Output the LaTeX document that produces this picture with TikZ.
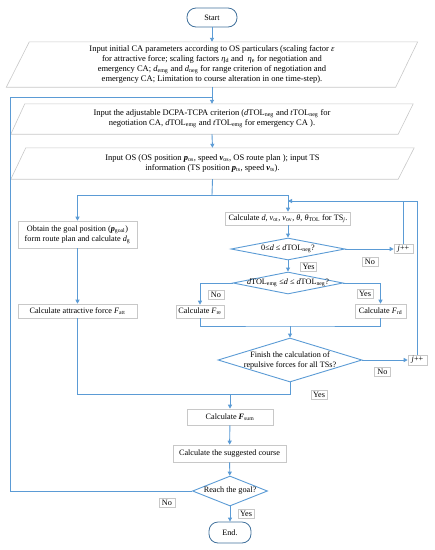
\documentclass[tikz,border=0pt]{standalone}
\usepackage{fontspec}
\setmainfont{Liberation Serif}
\usetikzlibrary{shapes.geometric,arrows.meta,calc}
\definecolor{lineblue}{RGB}{91,155,213}
\definecolor{termblue}{RGB}{65,113,156}
\definecolor{boxgray}{RGB}{200,200,200}
\begin{document}
\begin{tikzpicture}[x=1pt,y=-1pt, font=\fontsize{8.2}{10}\selectfont,
  conn/.style={draw=lineblue, line width=0.9pt},
  arr/.style={conn, -{Triangle[length=4pt,width=4pt]}},
  term/.style={draw=termblue, line width=0.8pt, rounded corners=9pt, inner sep=0pt},
  procbox/.style={draw=boxgray, line width=0.6pt, inner sep=0pt, align=center},
  iobox/.style={inner sep=0pt, align=center, font=\fontsize{8.5}{10}\selectfont},
  para/.style={draw=boxgray, line width=0.6pt},
  dec/.style={diamond, draw=lineblue, line width=0.9pt, inner sep=0pt},
  dectext/.style={inner sep=0pt, align=center},
  lab/.style={draw=boxgray, line width=0.5pt, inner sep=1pt, minimum width=16pt, minimum height=9pt}
]
\useasboundingbox (0,0) rectangle (435,550);

% terminals
\node[term, minimum width=50pt, minimum height=19pt] (start) at (212,17.5) {Start};
\node[term, minimum width=42pt, minimum height=21pt] (endn) at (230,532.5) {End.};

% parallelograms
\node[iobox, minimum width=411pt, minimum height=45pt] (p1) at (212,64.5)
 {Input initial CA parameters according to OS particulars (scaling factor \textit{ε}\\
  for attractive force; scaling factors \textit{η}\textsubscript{d} and \ \textit{η}\textsubscript{e} for negotiation and\\
  emergency CA; \textit{d}\textsubscript{emg} and \textit{d}\textsubscript{neg} for range criterion of negotiation and\\
  emergency CA; Limitation to course alteration in one time-step).};
\draw[para] ($(p1.north west)+(23,0)$) -- (p1.north east) -- ($(p1.south east)+(-22,0)$) -- (p1.south west) -- cycle;

\node[iobox, minimum width=402pt, minimum height=30pt] (p2) at (212,119)
 {Input the adjustable DCPA-TCPA criterion (\textit{d}TOL\textsubscript{neg} and \textit{t}TOL\textsubscript{neg} for\\
  negotiation CA, \textit{d}TOL\textsubscript{emg} and \textit{t}TOL\textsubscript{emg} for emergency CA ).};
\draw[para] ($(p2.north west)+(14,0)$) -- (p2.north east) -- ($(p2.south east)+(-15,0)$) -- (p2.south west) -- cycle;

\node[iobox, minimum width=403pt, minimum height=31pt] (p3) at (212.5,163.5)
 {Input OS (OS position \textbf{\textit{p}}\textsubscript{os}, speed \textbf{\textit{v}}\textsubscript{os}, OS route plan ); input TS\\
  information (TS position \textbf{\textit{p}}\textsubscript{ts}, speed \textbf{\textit{v}}\textsubscript{ts}).};
\draw[para] ($(p3.north west)+(15,0)$) -- (p3.north east) -- ($(p3.south east)+(-16,0)$) -- (p3.south west) -- cycle;

% left column
\node[procbox, minimum width=119pt, minimum height=27pt] (obt) at (77.5,234.5)
 {Obtain the goal position (\textbf{\textit{p}}\textsubscript{goal})\\form route plan and calculate \textit{d}\textsubscript{g}};
\node[procbox, minimum width=119pt, minimum height=14pt] (att) at (77.5,311)
 {Calculate attractive force \textit{F}\textsubscript{att}};

% right column
\node[procbox, minimum width=125pt, minimum height=13pt] (calcd) at (288,218.5)
 {Calculate \textit{d}, \textit{v}\textsubscript{ot}, \textit{v}\textsubscript{ov}, \textit{θ}, \textit{θ}\textsubscript{TOL} for TS\textsubscript{\textit{j}}.};
\node[dec, minimum width=114pt, minimum height=22pt] (d1) at (288,249) {};
\node[dectext] (d1t) at (d1) {0≤\textit{d} ≤ \textit{d}TOL\textsubscript{neg}?};
\node[procbox, minimum width=19pt, minimum height=9pt] (jpp1) at (403.5,249) {\textit{j}++};
\node[dec, minimum width=110pt, minimum height=22pt] (d2) at (288,283) {};
\node[dectext] (d2t) at (d2) {\textit{d}TOL\textsubscript{emg} ≤\textit{d} ≤ \textit{d}TOL\textsubscript{neg}?};
\node[procbox, minimum width=48pt, minimum height=13pt] (fre) at (200,311.5) {Calculate \textit{F}\textsubscript{re}};
\node[procbox, minimum width=51pt, minimum height=14pt] (frd) at (380.5,311) {Calculate \textit{F}\textsubscript{rd}};
\node[dec, minimum width=144pt, minimum height=44pt] (d3) at (290,360) {};
\node[dectext] (d3t) at (d3) {Finish the calculation of\\repulsive forces for all TSs?};
\node[procbox, minimum width=19pt, minimum height=10pt] (jpp2) at (417.5,360) {\textit{j}++};

% bottom
\node[procbox, minimum width=86pt, minimum height=16pt] (fsum) at (230,417) {Calculate \textbf{\textit{F}}\textsubscript{sum}};
\node[procbox, minimum width=113pt, minimum height=17pt] (sugg) at (229.5,453.5) {Calculate the suggested course};
\node[dec, minimum width=75pt, minimum height=30pt] (d4) at (230,491) {};
\node[dectext] (d4t) at (d4) {Reach the goal?};

% labels
\node[lab] (no1) at (370,262) {No};
\node[lab] (yes1) at (308.5,266.5) {Yes};
\node[lab] (no2) at (216,295) {No};
\node[lab] (yes2) at (365,293.5) {Yes};
\node[lab] (no3) at (382.5,371.5) {No};
\node[lab] (yes3) at (319,395) {Yes};
\node[lab] (no4) at (167,502.5) {No};
\node[lab] (yes4) at (246,513.5) {Yes};

% coordinates
\coordinate (jn) at (212,97);
\coordinate (loopc) at (10,97);
\coordinate (sp) at (212,195);
\coordinate (spl) at (77.5,195);
\coordinate (spr) at (288,195);
\coordinate (lp) at (288,201);
\coordinate (m1) at (290,326);
\coordinate (m2) at (230,394);

% connectors
\draw[arr] (start) -- (p1.north);
\draw[arr] (p1.south) -- (p2.north);
\draw[conn] (d4.west) -| (loopc) -- (jn);
\draw[arr] (p2.south) -- (p3.north);
\draw[conn] (p3.south) -- (sp);
\draw[conn] (spl) -- (spr);
\draw[arr] (spl) -- (obt.north);
\draw[arr] (spr) -- (calcd.north);
\draw[arr] (obt) -- (att);
\draw[arr] (calcd) -- (d1);
\draw[arr] (d1) -- (jpp1);
\draw[arr] (d1) -- (d2);
\draw[arr] (d2.west) -| (fre.north);
\draw[arr] (d2.east) -| (frd.north);
\draw[conn] (fre.south) |- (m1) -| (frd.south);
\draw[arr] (m1) -- (d3.north);
\draw[arr] (d3.east) -- (jpp2.west);
\draw[conn] (jpp2.north) |- (lp);
\draw[arr] (jpp1.north) |- (lp);
\draw[conn] (d3.south) |- (m2);
\draw[conn] (att.south) |- (m2);
\draw[arr] (m2) -- (fsum.north);
\draw[arr] (fsum) -- (sugg);
\draw[arr] (sugg) -- (d4);
\draw[arr] (d4) -- (endn);
\end{tikzpicture}
\end{document}
